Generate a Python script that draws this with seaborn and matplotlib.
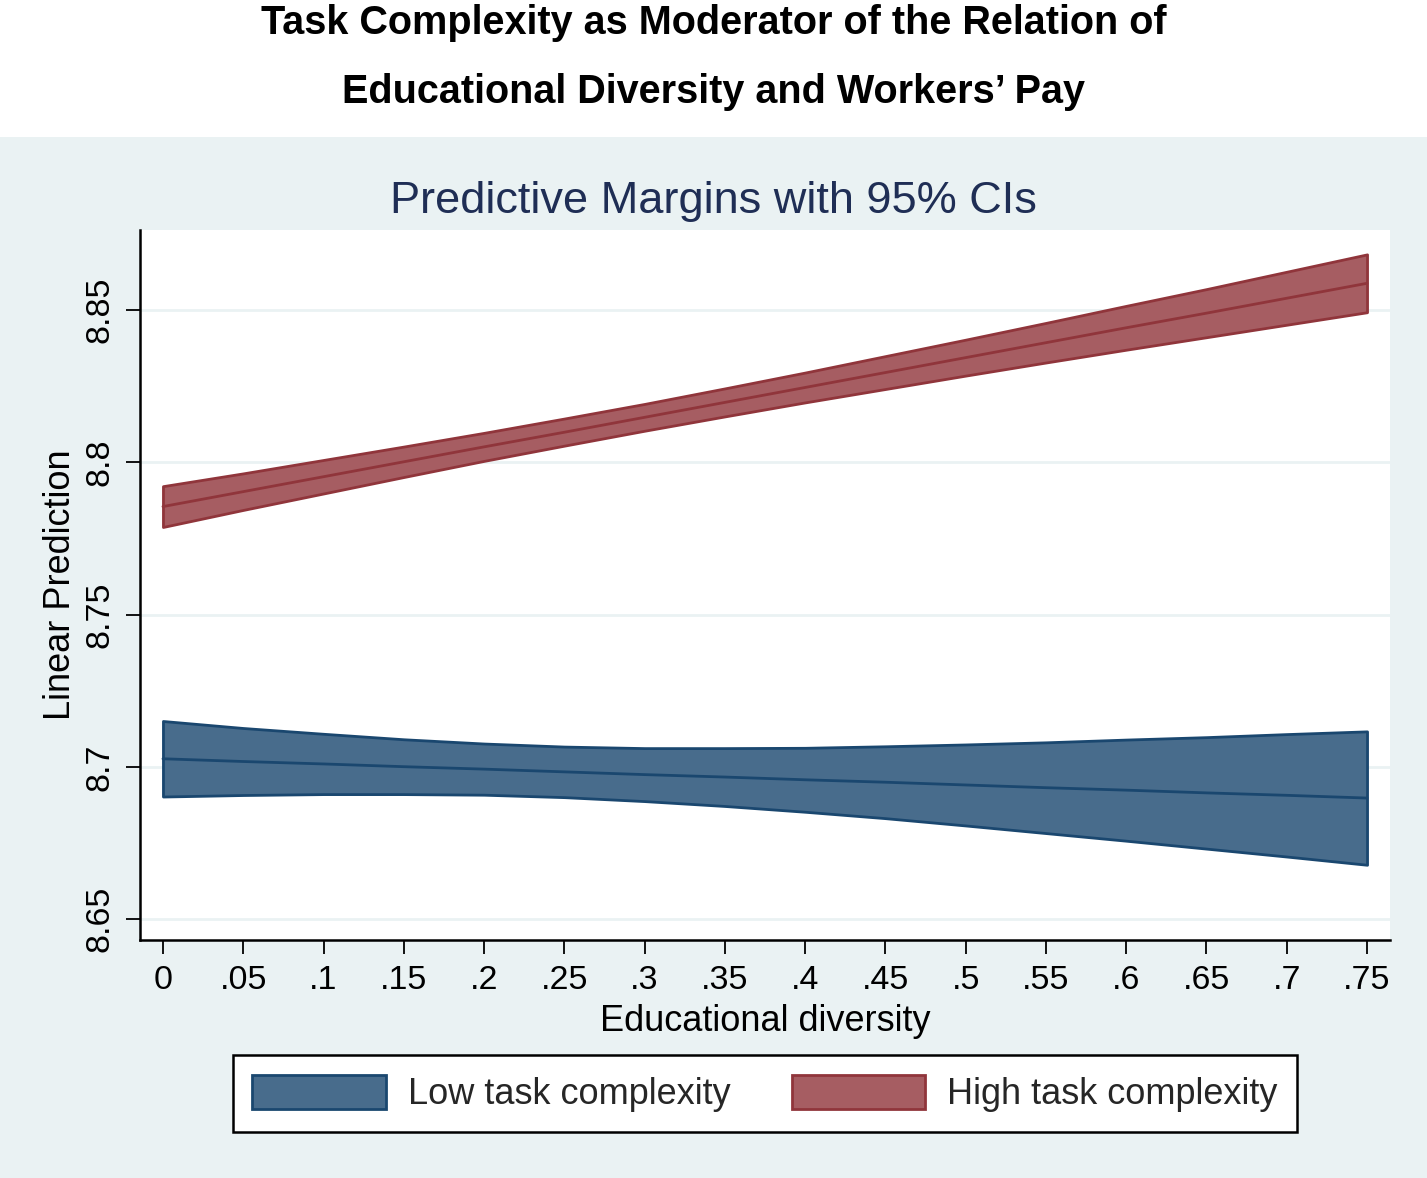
import numpy as np
import matplotlib
matplotlib.use("Agg")
import matplotlib.pyplot as plt
from matplotlib.patches import Patch, Rectangle
import seaborn as sns
import pandas as pd

# --- data ---
edu_div = [0, .05, .1, .15, .2, .25, .3, .35, .4, .45, .5, .55, .6, .65, .7, .75]

low_mid = [8.7027, 8.7018, 8.7010, 8.7001, 8.6993, 8.6984, 8.6975, 8.6967,
           8.6958, 8.6950, 8.6941, 8.6932, 8.6924, 8.6915, 8.6907, 8.6898]
low_hi = [8.7151, 8.7128, 8.7109, 8.7091, 8.7077, 8.7067, 8.7062, 8.7062,
          8.7063, 8.7068, 8.7074, 8.7081, 8.7090, 8.7098, 8.7108, 8.7117]
low_lo = [8.6903, 8.6908, 8.6911, 8.6911, 8.6909, 8.6901, 8.6888, 8.6872,
          8.6853, 8.6832, 8.6808, 8.6783, 8.6758, 8.6732, 8.6706, 8.6679]

high_mid = [8.7855, 8.7904, 8.7953, 8.8002, 8.8051, 8.8099, 8.8148, 8.8197,
            8.8246, 8.8295, 8.8344, 8.8393, 8.8442, 8.8490, 8.8539, 8.8588]
high_hi = [8.7922, 8.7964, 8.8008, 8.8052, 8.8097, 8.8144, 8.8192, 8.8243,
           8.8295, 8.8349, 8.8403, 8.8458, 8.8514, 8.8569, 8.8626, 8.8683]
high_lo = [8.7788, 8.7844, 8.7898, 8.7952, 8.8005, 8.8055, 8.8104, 8.8151,
           8.8197, 8.8241, 8.8285, 8.8328, 8.8370, 8.8411, 8.8452, 8.8493]

x_ticks = [0, .05, .1, .15, .2, .25, .3, .35, .4, .45, .5, .55, .6, .65, .7, .75]
x_ticklabels = ["0", ".05", ".1", ".15", ".2", ".25", ".3", ".35", ".4", ".45",
                ".5", ".55", ".6", ".65", ".7", ".75"]
y_ticks = [8.65, 8.7, 8.75, 8.8, 8.85]
y_ticklabels = ["8.65", "8.7", "8.75", "8.8", "8.85"]

groups = ["Low task complexity", "High task complexity"]

# stata s2color-ish palette
BG = "#EAF2F3"
NAVY = "#1A476F"
NAVY_FILL = "#486C8C"
MAROON = "#90353B"
MAROON_FILL = "#A65D62"

sns.set_theme(style="white")
plt.rcParams["font.family"] = ["Liberation Sans", "DejaVu Sans"]

fig = plt.figure(figsize=(14.27, 11.78), dpi=100, facecolor=BG)
# white band behind the main title
fig.patches.append(Rectangle((0, 1 - 137 / 1178), 1, 137 / 1178, transform=fig.transFigure,
                             facecolor="white", edgecolor="none", zorder=0))

ax = fig.add_axes([140 / 1427, 1 - 940 / 1178, 1250 / 1427, 710 / 1178])
ax.set_facecolor("white")

df = pd.DataFrame({
    "edu": edu_div * 2,
    "mid": low_mid + high_mid,
    "lo": low_lo + high_lo,
    "hi": low_hi + high_hi,
    "group": [groups[0]] * len(edu_div) + [groups[1]] * len(edu_div),
})

for g, edge, fill in [(groups[0], NAVY, NAVY_FILL), (groups[1], MAROON, MAROON_FILL)]:
    sub = df[df["group"] == g]
    ax.fill_between(sub["edu"], sub["lo"], sub["hi"], facecolor=fill,
                    edgecolor=edge, linewidth=2.0, zorder=2)
    sns.lineplot(data=sub, x="edu", y="mid", color=edge, linewidth=2.0, ax=ax,
                 zorder=3, legend=False)

ax.set_xlim(-0.0143, 0.7643)
ax.set_ylim(8.6432, 8.8763)
ax.set_xticks(x_ticks)
ax.set_xticklabels(x_ticklabels)
ax.set_yticks(y_ticks)
ax.set_yticklabels(y_ticklabels, rotation=90, va="center")
ax.tick_params(axis="both", direction="out", length=10, width=1.3, color="black",
               labelsize=24.5, labelcolor="black", pad=8, left=True, bottom=True)
ax.grid(axis="y", color=BG, linewidth=2, zorder=0)
ax.grid(axis="x", visible=False)
ax.set_axisbelow(True)

for side in ["top", "right"]:
    ax.spines[side].set_visible(False)
for side in ["left", "bottom"]:
    ax.spines[side].set_color("black")
    ax.spines[side].set_linewidth(1.8)

ax.set_xlabel("Educational diversity", fontsize=26, color="black", labelpad=6)
ax.set_ylabel("Linear Prediction", fontsize=26, color="black", labelpad=4)

fig.text(0.5, 1 - 34 / 1178, "Task Complexity as Moderator of the Relation of",
         ha="center", va="baseline", fontsize=28.5, fontweight="bold", color="black")
fig.text(0.5, 1 - 103 / 1178, "Educational Diversity and Workers\u2019 Pay",
         ha="center", va="baseline", fontsize=28.5, fontweight="bold", color="black")
fig.text(0.5, 1 - 213 / 1178, "Predictive Margins with 95% CIs",
         ha="center", va="baseline", fontsize=32.5, color="#1F2E55")

handles = [Patch(facecolor=NAVY_FILL, edgecolor=NAVY, linewidth=2.0),
           Patch(facecolor=MAROON_FILL, edgecolor=MAROON, linewidth=2.0)]
leg = fig.legend(handles, groups, loc="center", bbox_to_anchor=(765 / 1427, 1 - 1093.5 / 1178),
                 ncol=2, fontsize=26, frameon=True, fancybox=False, framealpha=1,
                 handlelength=3.7, handleheight=1.1, handletextpad=0.6,
                 columnspacing=1.7, borderpad=0.55)
leg.get_frame().set_edgecolor("black")
leg.get_frame().set_linewidth(1.8)

fig.savefig("out.png", dpi=100, facecolor=BG)
